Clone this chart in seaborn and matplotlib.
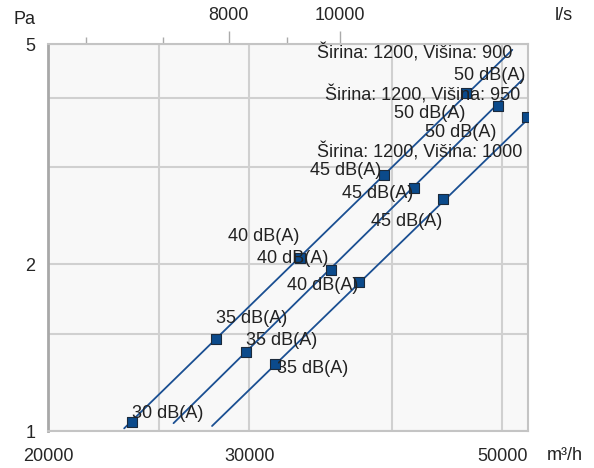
import numpy as np
import pandas as pd
import matplotlib
matplotlib.use('Agg')
import matplotlib.pyplot as plt
import seaborn as sns
from matplotlib.ticker import FixedLocator, NullFormatter, FixedFormatter

# Podaci očitani s dijagrama (protok m³/h, pad tlaka Pa)
serije = ['Širina: 1200, Višina: 900', 'Širina: 1200, Višina: 950', 'Širina: 1200, Višina: 1000']
razine = ['30 dB(A)', '35 dB(A)', '40 dB(A)', '45 dB(A)', '50 dB(A)']

q_900 = [23680, 28080, 33250, 39350, 46500]
p_900 = [1.038, 1.464, 2.05, 2.90, 4.07]
q_950 = [29820, 35350, 41840, 49510]
p_950 = [1.387, 1.953, 2.75, 3.86]
q_1000 = [31590, 37440, 44360, 52490]
p_1000 = [1.321, 1.861, 2.62, 3.69]

# krajnje točke linija
linija_q = [[23320, 51000], [25760, 52100], [27840, 52640]]
linija_p = [[1.011, 4.88], [1.033, 4.32], [1.021, 3.66]]

# pomak natpisa (px) i poravnanje - samo raspored
pomaci = [
    [(0, 9, 'left'), (0, 21, 'left'), (-1, 22, 'right'), (-2, 4, 'right'), (23, 18, 'center')],
    [(0, 12, 'left'), (-2, 12, 'right'), (-1, -6, 'right'), (-32, -7, 'right')],
    [(2, -4, 'left'), (-1, -4, 'right'), (-1, -22, 'right'), (-30, -15, 'right')],
]
pomaci_naslova = [(46, 40), (23, 11), (-4, -35)]

tocke = pd.concat([
    pd.DataFrame({'q': q_900, 'p': p_900, 'serija': serije[0], 'razina': razine}),
    pd.DataFrame({'q': q_950, 'p': p_950, 'serija': serije[1], 'razina': razine[1:]}),
    pd.DataFrame({'q': q_1000, 'p': p_1000, 'serija': serije[2], 'razina': razine[1:]}),
], ignore_index=True)

linije = pd.concat([
    pd.DataFrame({'q': linija_q[i], 'p': linija_p[i], 'serija': s}) for i, s in enumerate(serije)
], ignore_index=True)

sns.set_style('white')
plt.rcParams['font.family'] = ['Liberation Sans', 'DejaVu Sans']
plt.rcParams['font.size'] = 13
plt.rcParams['text.color'] = '#222222'

boja = '#1a4f92'
paleta = {s: boja for s in serije}

fig = plt.figure(figsize=(5.94, 4.68), dpi=100)
ax = fig.add_axes([48 / 594, 37 / 468, 480 / 594, 387 / 468])
ax.set_facecolor('#f8f8f8')
ax.set_xscale('log')
ax.set_yscale('log')

sns.lineplot(data=linije, x='q', y='p', hue='serija', palette=paleta, lw=1.3,
             legend=False, ax=ax, zorder=3, sort=False, estimator=None, units='serija')
sns.scatterplot(data=tocke, x='q', y='p', marker='s', s=62, color='#0b4a8b',
                edgecolor='#1b2a3c', linewidth=0.8, legend=False, ax=ax, zorder=4)

ax.set_xlim(20000, 52640)
ax.set_ylim(1, 5)

# natpisi razina buke
for i, s in enumerate(serije):
    d = tocke[tocke['serija'] == s].reset_index(drop=True)
    for j, row in d.iterrows():
        dx, dy, ha = pomaci[i][j]
        ax.annotate(row['razina'], (row['q'], row['p']), xytext=(dx, dy),
                    textcoords='offset pixels', ha=ha, va='center', fontsize=13,
                    zorder=5, annotation_clip=False)
    zadnji = d.iloc[-1]
    dx, dy = pomaci_naslova[i]
    ax.annotate(s, (zadnji['q'], zadnji['p']), xytext=(dx, dy), textcoords='offset pixels',
                ha='right', va='center', fontsize=13, zorder=5, annotation_clip=False)

# osi i mreža
ax.xaxis.set_major_locator(FixedLocator([20000, 30000, 50000]))
ax.xaxis.set_major_formatter(FixedFormatter(['20000', '30000', '50000']))
ax.xaxis.set_minor_locator(FixedLocator([25000, 40000]))
ax.xaxis.set_minor_formatter(NullFormatter())
ax.yaxis.set_major_locator(FixedLocator([1, 2, 5]))
ax.yaxis.set_major_formatter(FixedFormatter(['1', '2', '5']))
ax.yaxis.set_minor_locator(FixedLocator([1.5, 3, 4]))
ax.yaxis.set_minor_formatter(NullFormatter())
ax.grid(True, which='both', color='#d0d0d0', lw=1.5, zorder=0)
ax.set_axisbelow(True)
ax.tick_params(axis='x', which='major', length=10, width=1, color='#aaaaaa', pad=2, labelsize=13)
ax.tick_params(axis='y', which='major', length=6, width=1, color='#aaaaaa', pad=3, labelsize=13)
ax.tick_params(which='minor', length=0)
ax.set_xlabel('')
ax.set_ylabel('')

for k in ['top', 'right', 'bottom']:
    ax.spines[k].set_color('#c4c4c4')
    ax.spines[k].set_linewidth(1.5)
ax.spines['left'].set_color('#a8a8a8')
ax.spines['left'].set_linewidth(2)

# gornja os l/s
sec = ax.secondary_xaxis('top', functions=(lambda q: q / 3.6, lambda l: l * 3.6))
sec.xaxis.set_major_locator(FixedLocator([8000, 10000]))
sec.xaxis.set_major_formatter(FixedFormatter(['8000', '10000']))
sec.xaxis.set_minor_locator(FixedLocator([6000, 7000, 9000]))
sec.xaxis.set_minor_formatter(NullFormatter())
sec.tick_params(which='major', length=9.5, width=1, color='#aaaaaa', pad=5, labelsize=13)
sec.tick_params(which='minor', length=5, width=1, color='#aaaaaa')
sec.spines['top'].set_visible(False)

fig.text(24 / 594, 1 - 20 / 468, 'Pa', ha='center', va='center', fontsize=13)
fig.text(564 / 594, 1 - 16 / 468, 'l/s', ha='center', va='center', fontsize=13)
fig.text(565 / 594, 1 - 455 / 468, 'm³/h', ha='center', va='center', fontsize=13)

fig.savefig('out.png', dpi=100, facecolor='white')
